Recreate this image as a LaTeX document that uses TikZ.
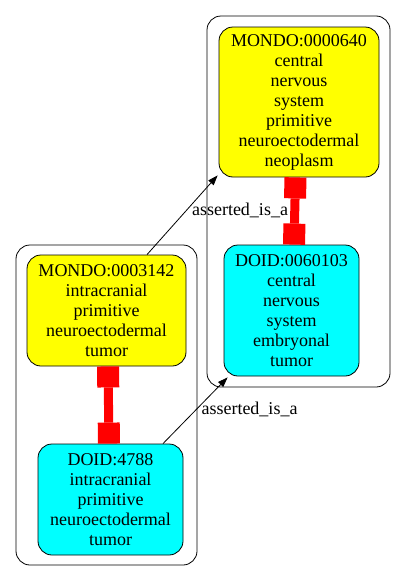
\documentclass[tikz,border=0pt]{standalone}
\usepackage{fontspec}
\setmainfont{Liberation Serif}
\usetikzlibrary{arrows.meta,calc}
\definecolor{gvyellow}{RGB}{255,255,0}
\definecolor{gvcyan}{RGB}{0,255,255}
\definecolor{gvred}{RGB}{255,0,0}
\begin{document}
\begin{tikzpicture}[x=1pt,y=-1pt,
  term/.style={draw=black, line width=0.8pt, rounded corners=14pt, align=center, inner sep=0pt, font=\fontsize{18}{20}\selectfont},
  mondo/.style={term, fill=gvyellow},
  doid/.style={term, fill=gvcyan},
  cluster/.style={draw=black, line width=0.8pt, rounded corners=14pt},
  xref/.style={draw=gvred, line width=9pt, {Square[length=21pt,width=22pt,line width=0pt]}-{Square[length=21pt,width=22pt,line width=0pt]}},
  isa/.style={draw=black, line width=0.8pt, -{Triangle[length=10pt,width=7pt]}},
  elabel/.style={font=\fontsize{18}{20}\selectfont, inner sep=0pt}
]
\useasboundingbox (0,0) rectangle (405,581);
\fill[white] (0,0) rectangle (405,581);
\draw[cluster] (16,245) rectangle (197,565);
\draw[cluster] (207,16) rectangle (390,387);
\node[mondo, minimum width=160pt, minimum height=150pt] (m640) at (299,102)
  {MONDO:0000640\\central\\nervous\\system\\primitive\\neuroectodermal\\neoplasm};
\node[doid, minimum width=135pt, minimum height=131pt] (d60) at (291.5,310.5)
  {DOID:0060103\\central\\nervous\\system\\embryonal\\tumor};
\node[mondo, minimum width=159pt, minimum height=111pt] (m3142) at (106.5,310.5)
  {MONDO:0003142\\intracranial\\primitive\\neuroectodermal\\tumor};
\node[doid, minimum width=145pt, minimum height=111pt] (d4788) at (110.5,499.5)
  {DOID:4788\\intracranial\\primitive\\neuroectodermal\\tumor};
\draw[xref] ($(m3142.south)+(1.5,0)$) -- ($(d4788.north)+(-1.5,0)$);
\draw[xref] ($(m640.south)+(-3.5,0)$) -- ($(d60.north)+(2.5,0)$);
\draw[isa] ($(m3142.north)+(40.5,0)$) -- ($(m640.south west)+(-1,-2)$);
\draw[isa] ($(d4788.north)+(52.5,0)$) -- ($(d60.south west)+(4,1)$);
\node[elabel] (l1) at (240,210) {asserted\_is\_a};
\node[elabel] (l2) at (249.5,409) {asserted\_is\_a};
\end{tikzpicture}
\end{document}
